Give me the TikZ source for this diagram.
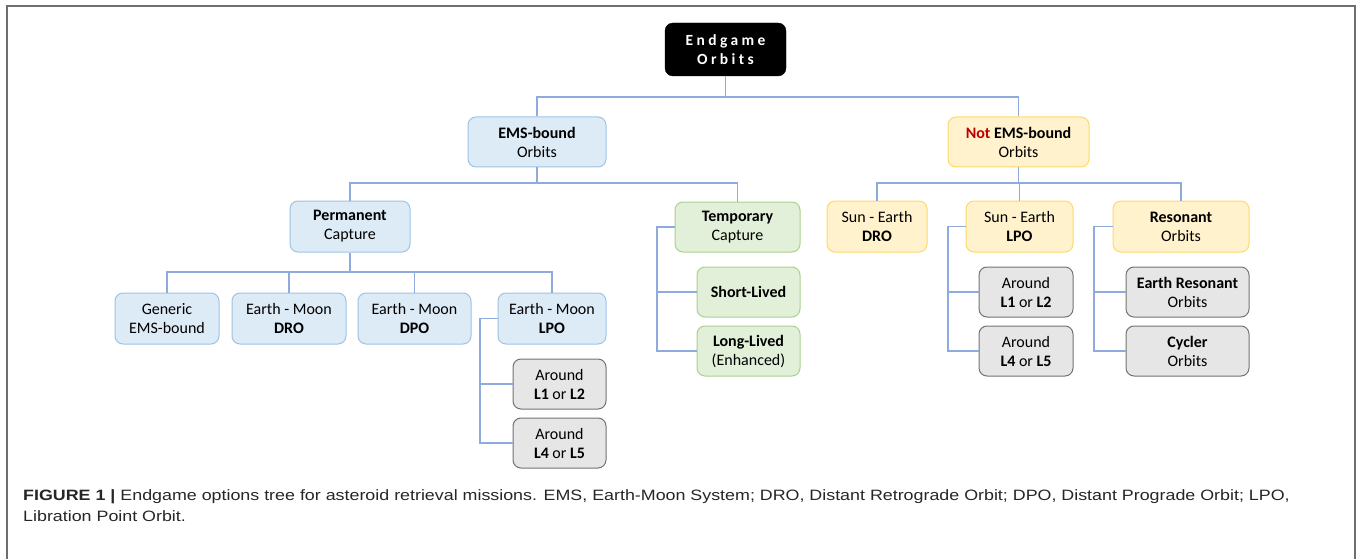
\documentclass[tikz,border=0pt]{standalone}
\usepackage{fontspec}
\setmainfont{Carlito}
\newfontfamily\spacedfont[LetterSpace=22]{Carlito}
\newfontfamily\capfont[FakeStretch=1.19]{Liberation Sans}
\definecolor{linkcol}{HTML}{8FAADC}
\definecolor{bluefill}{HTML}{DDEBF7}
\definecolor{bluedraw}{HTML}{9DC3E6}
\definecolor{greenfill}{HTML}{E2F0D9}
\definecolor{greendraw}{HTML}{A9D18E}
\definecolor{yellowfill}{HTML}{FFF2CC}
\definecolor{yellowdraw}{HTML}{FFD966}
\definecolor{greyfill}{HTML}{E7E6E6}
\definecolor{greydraw}{HTML}{767171}
\definecolor{notred}{HTML}{C00000}
\definecolor{framecol}{HTML}{6E6E6E}
\begin{document}
\begin{tikzpicture}[x=1pt,y=-1pt,
  box/.style={rounded corners=8pt, line width=1pt, align=center, inner sep=0pt,
    font=\fontsize{16}{19}\selectfont, minimum height=51pt},
  bbox/.style={box, draw=bluedraw, fill=bluefill},
  gbox/.style={box, draw=greendraw, fill=greenfill, minimum height=50pt},
  ybox/.style={box, draw=yellowdraw, fill=yellowfill},
  greybox/.style={box, draw=greydraw, fill=greyfill, minimum height=50pt},
  topbox/.style={rounded corners=8pt, fill=black, draw=black, align=center, inner sep=0pt,
    text=white, font={\spacedfont\bfseries\fontsize{15.5}{19}\selectfont}},
  link/.style={draw=linkcol, line width=1.2pt},
  frame/.style={draw=framecol, line width=1.5pt}
]
\useasboundingbox (0,0) rectangle (1358,559);
\draw[frame] (7,559) -- (7,6) -- (1355,6) -- (1355,559);

% nodes
\node[topbox, minimum width=121pt, minimum height=53pt] (top) at (725.5,49.5) {Endgame\\Orbits};
\node[bbox, minimum width=138pt, minimum height=50pt] (ems) at (537,142) {\textbf{EMS-bound}\\Orbits};
\node[ybox, minimum width=141pt, minimum height=50pt] (notems) at (1018.5,142) {\textbf{\textcolor{notred}{Not} EMS-bound}\\Orbits};

\node[bbox, minimum width=120pt] (perm) at (350,226.5) {\textbf{Permanent}\\Capture};
\node[gbox, minimum width=125pt] (temp) at (737.5,227) {\textbf{Temporary}\\Capture};

\node[bbox, minimum width=104pt] (generic) at (167,318.5) {Generic\\EMS-bound};
\node[bbox, minimum width=114pt] (emdro) at (289,318.5) {Earth - Moon\\\textbf{DRO}};
\node[bbox, minimum width=113pt] (emdpo) at (414.5,318.5) {Earth - Moon\\\textbf{DPO}};
\node[bbox, minimum width=108pt] (emlpo) at (552,318.5) {Earth - Moon\\\textbf{LPO}};

\node[greybox, minimum width=93pt] (la) at (559.5,384) {Around\\\textbf{L1} or \textbf{L2}};
\node[greybox, minimum width=93pt] (lb) at (559.5,443) {Around\\\textbf{L4} or \textbf{L5}};

\node[gbox, minimum width=103pt] (short) at (748.5,292) {\textbf{Short-Lived}};
\node[gbox, minimum width=103pt] (long) at (748.5,351) {\textbf{Long-Lived}\\(Enhanced)};

\node[ybox, minimum width=100pt] (sedro) at (877,226.5) {Sun - Earth\\\textbf{DRO}};
\node[ybox, minimum width=107pt] (selpo) at (1019.5,226.5) {Sun - Earth\\\textbf{LPO}};
\node[ybox, minimum width=136pt] (reson) at (1181,226.5) {\textbf{Resonant}\\Orbits};

\node[greybox, minimum width=94pt] (ra) at (1026,292) {Around\\\textbf{L1} or \textbf{L2}};
\node[greybox, minimum width=94pt] (rb) at (1026,351) {Around\\\textbf{L4} or \textbf{L5}};
\node[greybox, minimum width=123pt] (eres) at (1187.5,292) {\textbf{Earth Resonant}\\Orbits};
\node[greybox, minimum width=123pt] (cyc) at (1187.5,351) {\textbf{Cycler}\\Orbits};

% bus coordinates
\coordinate (bus0) at (0,97);
\coordinate (bus1) at (0,183);
\coordinate (bus2) at (0,272);
\coordinate (xa) at (480,0);
\coordinate (xb) at (657,0);
\coordinate (xc) at (948,0);
\coordinate (xd) at (1094,0);

% connectors
\draw[link] (top.south) -- (top.south |- bus0);
\draw[link] (ems.north) -- (ems.north |- bus0) -- (notems.north |- bus0) -- (notems.north);

\draw[link] (ems.south) -- (ems.south |- bus1);
\draw[link] (perm.north) -- (perm.north |- bus1) -- (temp.north |- bus1) -- (temp.north);

\draw[link] (notems.south) -- (notems.south |- bus1);
\draw[link] (sedro.north) -- (sedro.north |- bus1) -- (reson.north |- bus1) -- (reson.north);
\draw[link] (selpo.north) -- (selpo.north |- bus1);

\draw[link] (perm.south) -- (perm.south |- bus2);
\draw[link] (generic.north) -- (generic.north |- bus2) -- (emlpo.north |- bus2) -- (emlpo.north);
\draw[link] (emdro.north) -- (emdro.north |- bus2);
\draw[link] (emdpo.north) -- (emdpo.north |- bus2);

\draw[link] (emlpo.west) -- (emlpo.west -| xa) |- (lb.west);
\draw[link] (la.west) -- (la.west -| xa);

\draw[link] (temp.west) -- (temp.west -| xb) |- (long.west);
\draw[link] (short.west) -- (short.west -| xb);

\draw[link] (selpo.west) -- (selpo.west -| xc) |- (rb.west);
\draw[link] (ra.west) -- (ra.west -| xc);

\draw[link] (reson.west) -- (reson.west -| xd) |- (cyc.west);
\draw[link] (eres.west) -- (eres.west -| xd);

% caption
\node[anchor=base west, align=left, inner sep=0pt, text=black!85,
  font={\capfont\fontsize{15}{21}\selectfont}] (caption) at (23,521)
  {\textbf{FIGURE 1 |} Endgame options tree for asteroid retrieval missions. EMS, Earth-Moon System; DRO, Distant Retrograde Orbit; DPO, Distant Prograde Orbit; LPO,\\Libration Point Orbit.};
\end{tikzpicture}
\end{document}
